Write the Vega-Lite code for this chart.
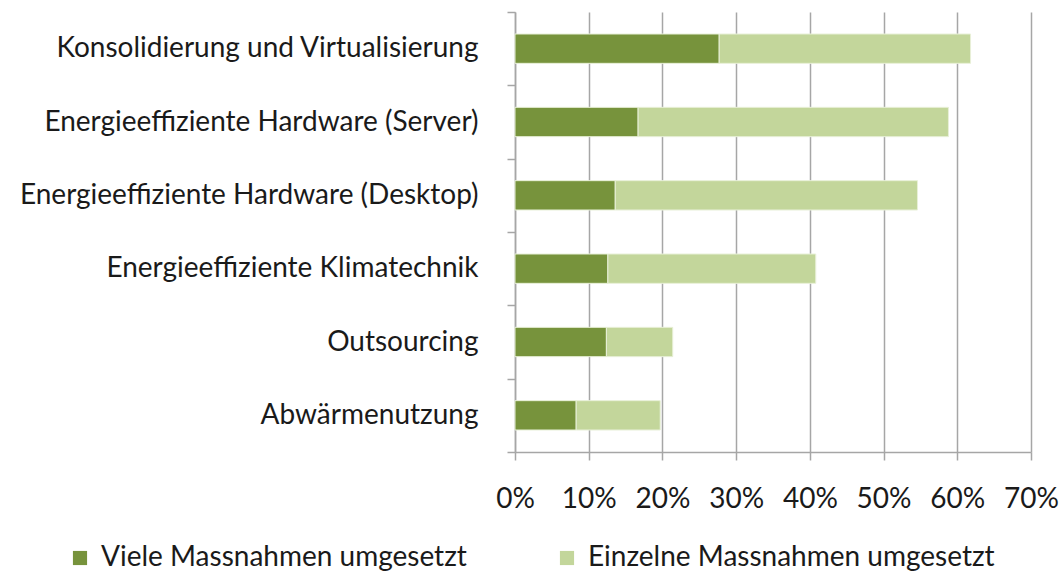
{
  "$schema": "https://vega.github.io/schema/vega-lite/v6.json",
  "autosize": "none",
  "width": 516,
  "height": 440,
  "padding": {"left": 515, "top": 12, "right": 28, "bottom": 127},
  "background": "white",
  "config": {
    "view": {"stroke": null},
    "font": "Lato"
  },
  "data": {
    "values": [
      {"kategorie": "Konsolidierung und Virtualisierung", "serie": "Viele Massnahmen umgesetzt", "reihenfolge": 1, "wert": 0.277},
      {"kategorie": "Konsolidierung und Virtualisierung", "serie": "Einzelne Massnahmen umgesetzt", "reihenfolge": 2, "wert": 0.341},
      {"kategorie": "Energieeffiziente Hardware (Server)", "serie": "Viele Massnahmen umgesetzt", "reihenfolge": 1, "wert": 0.167},
      {"kategorie": "Energieeffiziente Hardware (Server)", "serie": "Einzelne Massnahmen umgesetzt", "reihenfolge": 2, "wert": 0.421},
      {"kategorie": "Energieeffiziente Hardware (Desktop)", "serie": "Viele Massnahmen umgesetzt", "reihenfolge": 1, "wert": 0.136},
      {"kategorie": "Energieeffiziente Hardware (Desktop)", "serie": "Einzelne Massnahmen umgesetzt", "reihenfolge": 2, "wert": 0.410},
      {"kategorie": "Energieeffiziente Klimatechnik", "serie": "Viele Massnahmen umgesetzt", "reihenfolge": 1, "wert": 0.126},
      {"kategorie": "Energieeffiziente Klimatechnik", "serie": "Einzelne Massnahmen umgesetzt", "reihenfolge": 2, "wert": 0.282},
      {"kategorie": "Outsourcing", "serie": "Viele Massnahmen umgesetzt", "reihenfolge": 1, "wert": 0.124},
      {"kategorie": "Outsourcing", "serie": "Einzelne Massnahmen umgesetzt", "reihenfolge": 2, "wert": 0.090},
      {"kategorie": "Abwärmenutzung", "serie": "Viele Massnahmen umgesetzt", "reihenfolge": 1, "wert": 0.083},
      {"kategorie": "Abwärmenutzung", "serie": "Einzelne Massnahmen umgesetzt", "reihenfolge": 2, "wert": 0.114}
    ]
  },
  "mark": {"type": "bar", "height": {"band": 0.4}, "stroke": "#e8f0d8", "strokeWidth": 1},
  "encoding": {
    "y": {
      "field": "kategorie",
      "type": "nominal",
      "sort": null,
      "title": null,
      "scale": {"paddingInner": 0, "paddingOuter": 0},
      "axis": {
        "tickBand": "extent",
        "tickSize": 8,
        "tickColor": "#a6a6a6",
        "tickWidth": 1.5,
        "domainColor": "#a6a6a6",
        "domainWidth": 1.5,
        "labelFont": "Lato",
        "labelFontSize": 28,
        "labelColor": "#1a1a1a",
        "labelPadding": 29,
        "labelLimit": 520
      }
    },
    "x": {
      "field": "wert",
      "type": "quantitative",
      "stack": "zero",
      "title": null,
      "scale": {"domain": [0, 0.7], "nice": false},
      "axis": {
        "format": ".0%",
        "values": [0, 0.1, 0.2, 0.3, 0.4, 0.5, 0.6, 0.7],
        "grid": true,
        "gridColor": "#a6a6a6",
        "gridWidth": 1.5,
        "tickSize": 8,
        "tickColor": "#a6a6a6",
        "tickWidth": 1.5,
        "domainColor": "#a6a6a6",
        "domainWidth": 1.5,
        "labelFont": "Lato",
        "labelFontSize": 28,
        "labelColor": "#1a1a1a",
        "labelPadding": 25,
        "labelFlush": false,
        "labelOverlap": false
      }
    },
    "color": {
      "field": "serie",
      "type": "nominal",
      "sort": ["Viele Massnahmen umgesetzt", "Einzelne Massnahmen umgesetzt"],
      "scale": {
        "domain": ["Viele Massnahmen umgesetzt", "Einzelne Massnahmen umgesetzt"],
        "range": ["#77933c", "#c3d69b"]
      },
      "legend": {
        "title": null,
        "orient": "none",
        "legendX": -449,
        "legendY": 532,
        "direction": "horizontal",
        "columns": 2,
        "columnPadding": 86,
        "symbolType": "square",
        "symbolSize": 200,
        "symbolStrokeWidth": 0,
        "labelFont": "Lato",
        "labelFontSize": 28,
        "labelColor": "#1a1a1a",
        "labelOffset": 7,
        "labelLimit": 600
      }
    },
    "order": {"field": "reihenfolge", "type": "quantitative"}
  }
}
